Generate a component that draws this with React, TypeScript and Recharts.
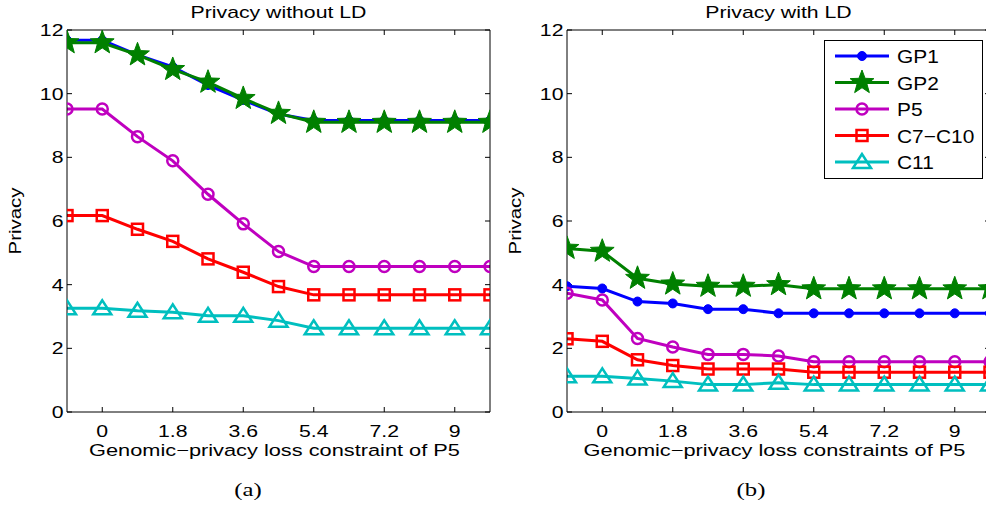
import React from "react";
import { LineChart, Line, XAxis, YAxis, Legend } from "recharts";

const xValues = [-0.9, 0, 0.9, 1.8, 2.7, 3.6, 4.5, 5.4, 6.3, 7.2, 8.1, 9, 9.9];
const xTicks = [0, 1.8, 3.6, 5.4, 7.2, 9];
const yTicks = [0, 2, 4, 6, 8, 10, 12];
const seriesNames = ["GP1", "GP2", "P5", "C7\u2212C10", "C11"];

// (a) privacy without LD
const gp1NoLd = [11.68, 11.68, 11.22, 10.84, 10.27, 9.8, 9.36, 9.16, 9.16, 9.16, 9.16, 9.16, 9.16];
const gp2NoLd = [11.6, 11.6, 11.22, 10.76, 10.36, 9.85, 9.38, 9.1, 9.1, 9.1, 9.1, 9.1, 9.1];
const p5NoLd = [9.52, 9.52, 8.65, 7.89, 6.84, 5.91, 5.04, 4.57, 4.57, 4.57, 4.57, 4.57, 4.57];
const c7c10NoLd = [6.17, 6.17, 5.74, 5.36, 4.81, 4.39, 3.94, 3.68, 3.68, 3.68, 3.68, 3.68, 3.68];
const c11NoLd = [3.26, 3.26, 3.18, 3.13, 3.02, 3.02, 2.87, 2.63, 2.63, 2.63, 2.63, 2.63, 2.63];

// (b) privacy with LD
const gp1Ld = [3.95, 3.88, 3.47, 3.41, 3.23, 3.23, 3.1, 3.1, 3.1, 3.1, 3.1, 3.1, 3.1];
const gp2Ld = [5.14, 5.05, 4.2, 4.02, 3.95, 3.95, 4.0, 3.87, 3.87, 3.87, 3.87, 3.87, 3.87];
const p5Ld = [3.73, 3.52, 2.31, 2.04, 1.81, 1.81, 1.76, 1.58, 1.58, 1.58, 1.58, 1.58, 1.58];
const c7c10Ld = [2.3, 2.22, 1.64, 1.46, 1.35, 1.35, 1.35, 1.25, 1.25, 1.25, 1.25, 1.25, 1.25];
const c11Ld = [1.12, 1.12, 1.05, 0.97, 0.86, 0.86, 0.92, 0.86, 0.86, 0.86, 0.86, 0.86, 0.86];

const seriesKeys = ["gp1", "gp2", "p5", "c7c10", "c11"];
const seriesColors = ["#0000ff", "#008000", "#bf00bf", "#ff0000", "#00bfbf"];
const seriesShapes = ["dot", "star", "circle", "square", "triangle"];

const buildRows = (cols: number[][]) =>
  xValues.map((x, i) => {
    const row: any = { x };
    seriesKeys.forEach((k, j) => (row[k] = cols[j][i]));
    return row;
  });

const rowsNoLd = buildRows([gp1NoLd, gp2NoLd, p5NoLd, c7c10NoLd, c11NoLd]);
const rowsLd = buildRows([gp1Ld, gp2Ld, p5Ld, c7c10Ld, c11Ld]);

// matlab-ish fonts come out wide, so stretch text horizontally
const WIDE = 1.25;

function starPoints(cx: number, cy: number, R: number, r: number) {
  const pts: string[] = [];
  for (let i = 0; i < 10; i++) {
    const rad = i % 2 === 0 ? R : r;
    const a = -Math.PI / 2 + (i * Math.PI) / 5;
    pts.push(`${cx + rad * Math.cos(a)},${cy + rad * Math.sin(a)}`);
  }
  return pts.join(" ");
}

function Marker({ shape, cx, cy, color }: any) {
  if (cx == null || cy == null) return null;
  if (shape === "dot") return <circle cx={cx} cy={cy} r={4.5} fill={color} stroke={color} />;
  if (shape === "star")
    return <polygon points={starPoints(cx, cy, 12.5, 5.2)} fill={color} stroke={color} strokeWidth={1} />;
  if (shape === "circle")
    return <circle cx={cx} cy={cy} r={5.5} fill="none" stroke={color} strokeWidth={2.5} />;
  if (shape === "square")
    return <rect x={cx - 5.5} y={cy - 5.5} width={11} height={11} fill="none" stroke={color} strokeWidth={2.5} />;
  return (
    <polygon
      points={`${cx},${cy - 8} ${cx - 9},${cy + 6} ${cx + 9},${cy + 6}`}
      fill="none"
      stroke={color}
      strokeWidth={2.5}
    />
  );
}

function XTick(props: any) {
  const { x, y, payload } = props;
  return (
    <g transform={`translate(${x},${y}) scale(${WIDE},1)`}>
      <text x={0} y={0} dy={10.5} textAnchor="middle" fontSize={17} fill="#000">
        {payload.value}
      </text>
    </g>
  );
}

function YTick(props: any) {
  const { x, y, payload } = props;
  return (
    <g transform={`translate(${x},${y}) scale(${WIDE},1)`}>
      <text x={0} y={0} dy={6} textAnchor="end" fontSize={17} fill="#000">
        {payload.value}
      </text>
    </g>
  );
}

function AxisText(props: any) {
  const { viewBox, kind, text } = props;
  const vb = viewBox || { x: 0, y: 0, width: 0, height: 0 };
  let t = "";
  let size = 17;
  if (kind === "title") t = `translate(${vb.x + vb.width / 2},${vb.y + vb.height - 11.7}) scale(${WIDE},1)`;
  else if (kind === "x") {
    size = 16.5;
    t = `translate(${vb.x + vb.width / 2 - 4},${vb.y + 43.5}) scale(1.32,1)`;
  } else t = `translate(20.5,${vb.y + vb.height / 2}) rotate(-90) scale(1.2,1)`;
  return (
    <text transform={t} textAnchor="middle" fontSize={size} fill="#000">
      {text}
    </text>
  );
}

function LegendBox(props: any) {
  const items = [...(props.payload || [])].sort(
    (a: any, b: any) => seriesKeys.indexOf(a.dataKey) - seriesKeys.indexOf(b.dataKey)
  );
  return (
    <svg width={159} height={139} style={{ display: "block" }}>
      <rect x={0.5} y={0.5} width={158} height={138} fill="#fff" stroke="#000" />
      {items.map((it: any, i: number) => {
        const j = seriesKeys.indexOf(it.dataKey);
        const cy = 16 + i * 26.5;
        return (
          <g key={it.dataKey}>
            <line x1={11} x2={65} y1={cy} y2={cy} stroke={seriesColors[j]} strokeWidth={3} />
            <Marker shape={seriesShapes[j]} cx={38} cy={cy} color={seriesColors[j]} />
            <g transform={`translate(73,${cy + 7}) scale(1.1,1)`}>
              <text x={0} y={0} fontSize={19} fill="#000">
                {it.value}
              </text>
            </g>
          </g>
        );
      })}
    </svg>
  );
}

function Panel({ rows, title, xLabel, legend }: any) {
  return (
    <LineChart width={500} height={507} data={rows} margin={{ top: 29, right: 9, bottom: 65, left: 0 }}>
      <XAxis
        xAxisId="b"
        dataKey="x"
        type="number"
        domain={[-0.9, 9.9]}
        allowDataOverflow
        ticks={xTicks}
        interval={0}
        height={30}
        tickSize={-5}
        tickMargin={19}
        tick={<XTick />}
        stroke="#000"
        label={<AxisText kind="x" text={xLabel} />}
      />
      <XAxis
        xAxisId="t"
        orientation="top"
        dataKey="x"
        type="number"
        domain={[-0.9, 9.9]}
        allowDataOverflow
        ticks={xTicks}
        interval={0}
        height={1}
        tickSize={-5}
        tick={() => <g />}
        stroke="#000"
        label={<AxisText kind="title" text={title} />}
      />
      <YAxis
        yAxisId="l"
        type="number"
        domain={[0, 12]}
        allowDataOverflow
        ticks={yTicks}
        interval={0}
        width={67}
        tickSize={-5}
        tickMargin={8.5}
        tick={<YTick />}
        stroke="#000"
        label={<AxisText kind="y" text="Privacy" />}
      />
      <YAxis
        yAxisId="r"
        orientation="right"
        type="number"
        domain={[0, 12]}
        allowDataOverflow
        ticks={yTicks}
        interval={0}
        width={1}
        tickSize={-5}
        tick={() => <g />}
        stroke="#000"
      />
      {legend && (
        <Legend
          layout="vertical"
          align="center"
          verticalAlign="middle"
          wrapperStyle={{ left: 324, top: 40, width: 159, height: 139 }}
          content={(p: any) => <LegendBox payload={p.payload} />}
        />
      )}
      {seriesKeys.map((k, j) => (
        <Line
          key={k}
          xAxisId="b"
          yAxisId="l"
          dataKey={k}
          name={seriesNames[j]}
          stroke={seriesColors[j]}
          strokeWidth={3}
          dot={(p: any) => (
            <Marker key={`${k}-${p.index}`} shape={seriesShapes[j]} cx={p.cx} cy={p.cy} color={seriesColors[j]} />
          )}
          activeDot={false}
          isAnimationActive={false}
        />
      ))}
    </LineChart>
  );
}

const captionStyle: React.CSSProperties = {
  position: "absolute",
  top: 480,
  width: 100,
  textAlign: "center",
  fontFamily: '"Liberation Serif", "Times New Roman", serif',
  fontSize: 19,
  lineHeight: "19px",
  transform: "scaleX(1.3)",
};

export default function App() {
  return (
    <div
      style={{
        position: "absolute",
        left: 0,
        top: 0,
        width: 986,
        height: 507,
        overflow: "hidden",
        background: "#fff",
        fontFamily: '"Liberation Sans", Arial, sans-serif',
      }}
    >
      <div style={{ position: "absolute", left: 0, top: 0 }}>
        <Panel
          rows={rowsNoLd}
          title="Privacy without LD"
          xLabel={"Genomic\u2212privacy loss constraint of P5"}
          legend={false}
        />
      </div>
      <div style={{ position: "absolute", left: 500, top: 0 }}>
        <Panel
          rows={rowsLd}
          title="Privacy with LD"
          xLabel={"Genomic\u2212privacy loss constraints of P5"}
          legend
        />
      </div>
      <div style={{ ...captionStyle, left: 198 }}>(a)</div>
      <div style={{ ...captionStyle, left: 701 }}>(b)</div>
    </div>
  );
}
